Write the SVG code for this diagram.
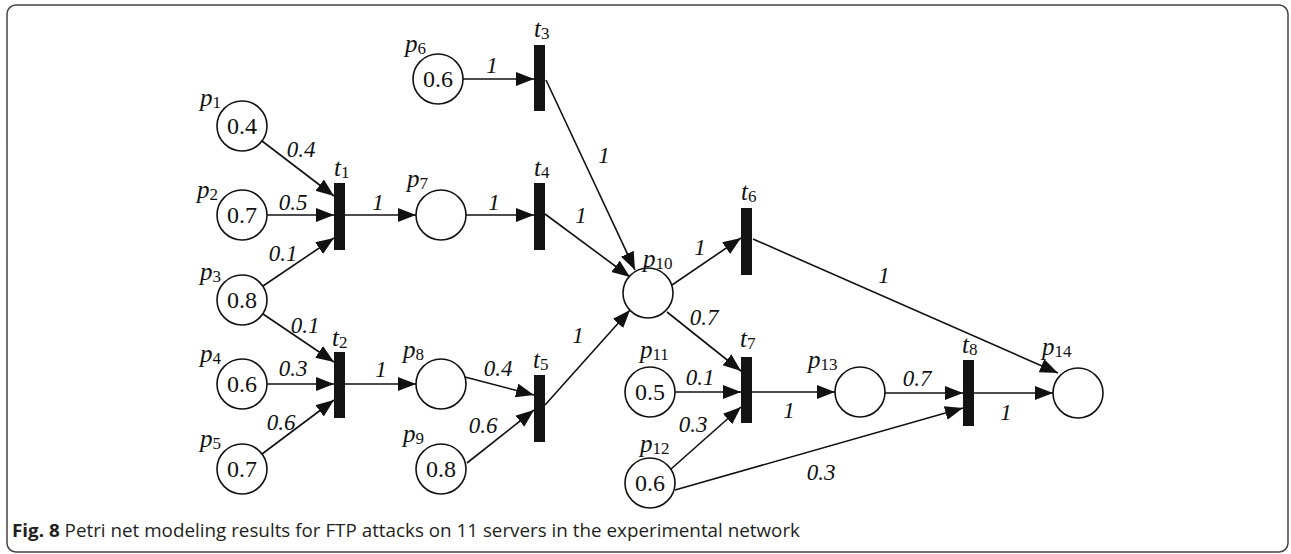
<svg xmlns="http://www.w3.org/2000/svg" width="1291" height="554" viewBox="0 0 1291 554">
<style>
.place{fill:#fff;stroke:#111;stroke-width:1.6}
.trans{fill:#141414}
.arc{stroke:#111;stroke-width:1.6;fill:none;marker-end:url(#ah)}
.tok{font-size:24px;fill:#111;text-anchor:middle}
.lbl{font-size:25px;font-style:italic;fill:#111}
.sub{font-style:normal;font-size:17px}
.w{font-size:23px;font-style:italic;fill:#111;text-anchor:middle}
.cap{font-size:18px;fill:#231f20}
</style>
<defs>
<marker id="ah" markerUnits="userSpaceOnUse" markerWidth="20" markerHeight="16" refX="18" refY="7" orient="auto">
<path d="M0,0 L18,7 L0,14 Z" fill="#111"/>
</marker>
</defs>
<rect x="7" y="5" width="1281" height="547" rx="9" fill="#fff" stroke="#444" stroke-width="1.5"/>

<g id="connectors">
<line class="arc" x1="262" y1="141" x2="334" y2="196"/>
<line class="arc" x1="267" y1="215" x2="334" y2="215"/>
<line class="arc" x1="263" y1="286" x2="334" y2="238"/>
<line class="arc" x1="263" y1="314" x2="334" y2="362"/>
<line class="arc" x1="267" y1="384" x2="334" y2="384"/>
<line class="arc" x1="262" y1="454" x2="334" y2="400"/>
<line class="arc" x1="345" y1="215" x2="416" y2="215"/>
<line class="arc" x1="345" y1="384" x2="416" y2="384"/>
<line class="arc" x1="463" y1="79" x2="534" y2="79"/>
<line class="arc" x1="466" y1="215" x2="534" y2="215"/>
<line class="arc" x1="465" y1="377" x2="534" y2="395"/>
<line class="arc" x1="467" y1="463" x2="534" y2="410"/>
<line class="arc" x1="545" y1="405" x2="630" y2="310"/>
<line class="arc" x1="545" y1="214" x2="630" y2="277"/>
<line class="arc" x1="546" y1="80" x2="635" y2="270"/>
<line class="arc" x1="672" y1="285" x2="741" y2="238"/>
<line class="arc" x1="753" y1="239" x2="1058" y2="373"/>
<line class="arc" x1="667" y1="312" x2="741" y2="371"/>
<line class="arc" x1="675" y1="392" x2="741" y2="392"/>
<line class="arc" x1="671" y1="469" x2="741" y2="407"/>
<line class="arc" x1="752" y1="392" x2="835" y2="392"/>
<line class="arc" x1="675" y1="490" x2="963" y2="408"/>
<line class="arc" x1="885" y1="393" x2="963" y2="393"/>
<line class="arc" x1="974" y1="393" x2="1053" y2="393"/>
</g>

<g id="arc-labels" font-family="'Liberation Serif', 'Times New Roman', 'DejaVu Serif', serif">
<text class="w" x="301" y="157">0.4</text>
<text class="w" x="293" y="210">0.5</text>
<text class="w" x="283" y="261">0.1</text>
<text class="w" x="305" y="333">0.1</text>
<text class="w" x="293" y="376">0.3</text>
<text class="w" x="281" y="430">0.6</text>
<text class="w" x="378" y="210">1</text>
<text class="w" x="381" y="377">1</text>
<text class="w" x="492" y="73">1</text>
<text class="w" x="494" y="210">1</text>
<text class="w" x="498" y="376">0.4</text>
<text class="w" x="483" y="433">0.6</text>
<text class="w" x="581" y="223">1</text>
<text class="w" x="604" y="163">1</text>
<text class="w" x="578" y="343">1</text>
<text class="w" x="700" y="255">1</text>
<text class="w" x="704" y="325">0.7</text>
<text class="w" x="884" y="283">1</text>
<text class="w" x="700" y="385">0.1</text>
<text class="w" x="693" y="432">0.3</text>
<text class="w" x="789" y="418">1</text>
<text class="w" x="821" y="480">0.3</text>
<text class="w" x="917" y="386">0.7</text>
<text class="w" x="1006" y="420">1</text>
</g>

<g id="nodes" font-family="'Liberation Serif', 'Times New Roman', 'DejaVu Serif', serif">
<g id="p1"><circle class="place" cx="242" cy="126" r="25"/><text class="tok" x="242" y="134">0.4</text><text class="lbl" x="200" y="106">p<tspan class="sub" dy="2">1</tspan></text></g>
<g id="p2"><circle class="place" cx="242" cy="215" r="25"/><text class="tok" x="242" y="223">0.7</text><text class="lbl" x="197" y="198">p<tspan class="sub" dy="2">2</tspan></text></g>
<g id="p3"><circle class="place" cx="242" cy="300" r="25"/><text class="tok" x="242" y="308">0.8</text><text class="lbl" x="200" y="280">p<tspan class="sub" dy="2">3</tspan></text></g>
<g id="p4"><circle class="place" cx="242" cy="384" r="25"/><text class="tok" x="242" y="392">0.6</text><text class="lbl" x="200" y="362">p<tspan class="sub" dy="2">4</tspan></text></g>
<g id="p5"><circle class="place" cx="242" cy="469" r="25"/><text class="tok" x="242" y="477">0.7</text><text class="lbl" x="200" y="447">p<tspan class="sub" dy="2">5</tspan></text></g>
<g id="p6"><circle class="place" cx="438" cy="79" r="25"/><text class="tok" x="438" y="87">0.6</text><text class="lbl" x="405" y="52">p<tspan class="sub" dy="2">6</tspan></text></g>
<g id="p7"><circle class="place" cx="441" cy="215" r="25"/><text class="lbl" x="407" y="187">p<tspan class="sub" dy="2">7</tspan></text></g>
<g id="p8"><circle class="place" cx="441" cy="384" r="25"/><text class="lbl" x="403" y="358">p<tspan class="sub" dy="2">8</tspan></text></g>
<g id="p9"><circle class="place" cx="441" cy="469" r="25"/><text class="tok" x="441" y="477">0.8</text><text class="lbl" x="403" y="442">p<tspan class="sub" dy="2">9</tspan></text></g>
<g id="p10"><circle class="place" cx="648" cy="293" r="25"/><text class="lbl" x="643" y="267">p<tspan class="sub" dy="2">10</tspan></text></g>
<g id="p11"><circle class="place" cx="650" cy="392" r="25"/><text class="tok" x="650" y="400">0.5</text><text class="lbl" x="640" y="358">p<tspan class="sub" dy="2">11</tspan></text></g>
<g id="p12"><circle class="place" cx="650" cy="483" r="25"/><text class="tok" x="650" y="491">0.6</text><text class="lbl" x="640" y="452">p<tspan class="sub" dy="2">12</tspan></text></g>
<g id="p13"><circle class="place" cx="860" cy="392" r="25"/><text class="lbl" x="808" y="368">p<tspan class="sub" dy="2">13</tspan></text></g>
<g id="p14"><circle class="place" cx="1078" cy="393" r="25"/><text class="lbl" x="1042" y="355">p<tspan class="sub" dy="2">14</tspan></text></g>

<g id="t1"><rect class="trans" x="334" y="183" width="11" height="67"/><text class="lbl" x="334" y="176">t<tspan class="sub" dy="2">1</tspan></text></g>
<g id="t2"><rect class="trans" x="334" y="352" width="11" height="66"/><text class="lbl" x="332" y="346">t<tspan class="sub" dy="2">2</tspan></text></g>
<g id="t3"><rect class="trans" x="534" y="45" width="11" height="66"/><text class="lbl" x="534" y="37">t<tspan class="sub" dy="2">3</tspan></text></g>
<g id="t4"><rect class="trans" x="534" y="183" width="11" height="67"/><text class="lbl" x="534" y="176">t<tspan class="sub" dy="2">4</tspan></text></g>
<g id="t5"><rect class="trans" x="534" y="375" width="11" height="67"/><text class="lbl" x="533" y="368">t<tspan class="sub" dy="2">5</tspan></text></g>
<g id="t6"><rect class="trans" x="741" y="208" width="11" height="67"/><text class="lbl" x="741" y="200">t<tspan class="sub" dy="2">6</tspan></text></g>
<g id="t7"><rect class="trans" x="741" y="357" width="11" height="66"/><text class="lbl" x="740" y="347">t<tspan class="sub" dy="2">7</tspan></text></g>
<g id="t8"><rect class="trans" x="963" y="360" width="11" height="66"/><text class="lbl" x="962" y="353">t<tspan class="sub" dy="2">8</tspan></text></g>
</g>

<text class="cap" font-family="'Open Sans', 'Liberation Sans', sans-serif" x="12" y="537" textLength="788" lengthAdjust="spacingAndGlyphs"><tspan font-weight="bold">Fig. 8</tspan> Petri net modeling results for FTP attacks on 11 servers in the experimental network</text>
</svg>
